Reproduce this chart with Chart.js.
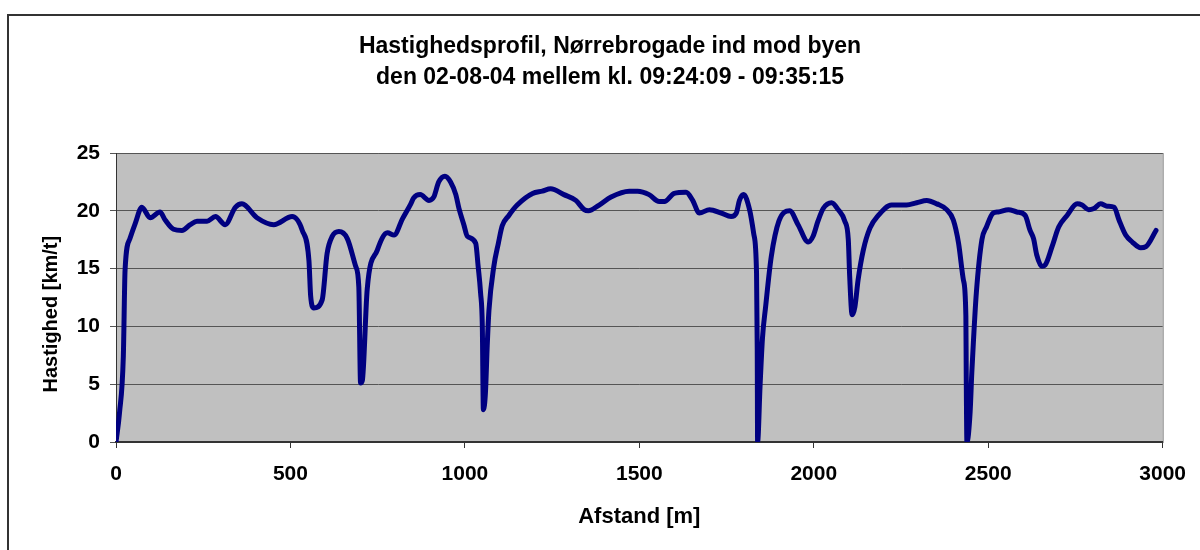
<!DOCTYPE html>
<html>
<head>
<meta charset="utf-8">
<script src="https://cdn.jsdelivr.net/npm/chart.js@4.4.1/dist/chart.umd.min.js"></script>
<style>
  html, body { margin: 0; padding: 0; background: #fff; }
  #wrap { width: 1200px; height: 550px; }
</style>
</head>
<body>
<div id="wrap"><canvas id="chart" width="1200" height="550"></canvas></div>
<script>
// Afstand [m] og hastighed [km/t]
const distances = [
  0, 10, 21, 26, 40, 55, 74, 98, 126, 141, 165, 189, 213, 232, 261, 285, 313, 342, 361, 404,
  452, 505, 534, 553, 558, 567, 591, 605, 620, 639, 663, 687, 696, 701, 706, 720, 749, 778, 797, 821,
  845, 853, 872, 897, 911, 925, 943, 959, 974, 983, 997, 1007, 1031, 1038, 1045, 1050, 1053, 1059, 1064, 1069,
  1083, 1096, 1107, 1126, 1150, 1194, 1222, 1246, 1284, 1318, 1342, 1354, 1385, 1419, 1471, 1495, 1528, 1557, 1572, 1600,
  1634, 1653, 1672, 1701, 1735, 1763, 1778, 1787, 1799, 1816, 1828, 1836, 1838, 1839, 1846, 1853, 1862, 1878, 1900, 1931,
  1955, 1984, 1998, 2012, 2027, 2051, 2070, 2089, 2099, 2103, 2110, 2118, 2127, 2142, 2161, 2185, 2223, 2266, 2295, 2324,
  2353, 2381, 2400, 2415, 2429, 2436, 2437, 2439, 2448, 2453, 2458, 2466, 2482, 2495, 2514, 2529, 2558, 2582, 2606, 2620,
  2630, 2639, 2654, 2663, 2683, 2702, 2726, 2755, 2769, 2788, 2803, 2822, 2841, 2861, 2875, 2894, 2913, 2937, 2952, 2981
];
const speeds = [
  0, 2.5, 7.4, 14.9, 17.6, 18.9, 20.3, 19.4, 19.9, 19.2, 18.4, 18.3, 18.8, 19.1, 19.1, 19.5, 18.8, 20.3, 20.6, 19.4,
  18.8, 19.5, 18.3, 15.7, 12.6, 11.6, 12.3, 16.3, 17.8, 18.2, 17.6, 15.2, 13.4, 5.1, 5.3, 13.2, 16.6, 18.1, 17.9, 19.3,
  20.6, 21.1, 21.4, 20.9, 21.2, 22.5, 23.0, 22.5, 21.4, 20.2, 18.8, 17.8, 17.2, 15.2, 12.9, 10.0, 2.8, 4.3, 8.3, 11.4,
  15.2, 17.2, 18.7, 19.6, 20.5, 21.5, 21.7, 21.9, 21.4, 20.9, 20.1, 20.0, 20.5, 21.2, 21.7, 21.7, 21.4, 20.8, 20.8, 21.5,
  21.6, 20.9, 19.8, 20.1, 19.8, 19.5, 19.8, 20.9, 21.4, 20.1, 18.0, 14.6, 8.0, 0, 4.8, 9.0, 11.7, 16.0, 19.1, 20.0,
  18.8, 17.3, 17.8, 19.1, 20.2, 20.7, 20.1, 19.1, 17.5, 14.3, 11.0, 11.7, 14.0, 16.6, 18.5, 19.6, 20.5, 20.5, 20.7, 20.9,
  20.6, 20.1, 19.2, 17.2, 14.0, 10.9, 6.0, 0, 2.5, 6.0, 8.9, 12.9, 17.5, 18.6, 19.8, 19.9, 20.1, 19.9, 19.6, 18.3,
  17.6, 16.2, 15.2, 15.3, 16.9, 18.6, 19.6, 20.6, 20.5, 20.1, 20.2, 20.6, 20.4, 20.3, 19.2, 17.9, 17.3, 16.8, 16.9, 18.3
];
const titleLines = ['Hastighedsprofil, Nørrebrogade ind mod byen', 'den 02-08-04 mellem kl. 09:24:09 - 09:35:15'];
const xTitle = 'Afstand [m]';
// efterstillede mellemrum flytter teksten lidt ned, som i Excel-figuren
const yTitle = 'Hastighed [km/t]      ';

const FONT = "'Liberation Sans', Arial, sans-serif";

// hvid baggrund, ramme og grå plotflade
const plotArea = {
  id: 'plotArea',
  beforeDraw(chart) {
    const { ctx, chartArea: a } = chart;
    ctx.save();
    ctx.fillStyle = '#fff';
    ctx.fillRect(0, 0, chart.width, chart.height);
    ctx.strokeStyle = '#333';
    ctx.lineWidth = 2;
    ctx.strokeRect(8, 15, chart.width + 10, chart.height + 10);
    ctx.fillStyle = '#c0c0c0';
    ctx.fillRect(a.left, a.top, a.right - a.left, a.bottom - a.top);
    ctx.strokeStyle = '#808080';
    ctx.lineWidth = 1;
    ctx.strokeRect(a.left + 0.5, a.top + 0.5, a.right - a.left, a.bottom - a.top);
    ctx.restore();
  }
};

const points = distances.map((d, i) => ({ x: d, y: speeds[i] }));

new Chart(document.getElementById('chart'), {
  type: 'line',
  data: {
    datasets: [{
      label: 'Hastighed',
      data: points,
      borderColor: '#000080',
      borderWidth: 5,
      pointRadius: 0,
      cubicInterpolationMode: 'monotone',
      fill: false,
      borderJoinStyle: 'round',
      borderCapStyle: 'round'
    }]
  },
  options: {
    responsive: false,
    animation: false,
    layout: { padding: { left: 20, right: 0, top: 8, bottom: 20 } },
    plugins: {
      legend: { display: false },
      tooltip: { enabled: false },
      title: {
        display: true,
        text: titleLines,
        color: '#000',
        font: { family: FONT, size: 23, weight: 'bold', lineHeight: 1.348 },
        padding: { top: 23, bottom: 60 }
      }
    },
    scales: {
      x: {
        type: 'linear', min: 0, max: 3000,
        ticks: { stepSize: 500, color: '#000', padding: 14, maxRotation: 0,
          callback: v => String(v),
          font: { family: FONT, size: 21, weight: 'bold' } },
        grid: { drawOnChartArea: false, drawTicks: true, tickLength: 6, color: '#333' },
        border: { color: '#333', width: 2 },
        title: { display: true, text: xTitle, color: '#000', padding: 0,
          font: { family: FONT, size: 22, weight: 'bold' } },
        afterFit(s) { s.height = 88; }
      },
      y: {
        min: 0, max: 25,
        ticks: { stepSize: 5, color: '#000', padding: 10,
          font: { family: FONT, size: 21, weight: 'bold' } },
        grid: { color: '#555', tickLength: 6, lineWidth: 1 },
        border: { color: '#333', width: 1 },
        title: { display: true, text: yTitle, color: '#000', padding: { top: 19, bottom: 0 },
          font: { family: FONT, size: 20, weight: 'bold' } },
        afterFit(s) { s.width = 96; }
      },
      yRight: {
        position: 'right', display: true,
        ticks: { display: false },
        grid: { display: false },
        border: { display: false },
        afterFit(s) { s.width = 34; }
      }
    }
  },
  plugins: [plotArea]
});
</script>
</body>
</html>
